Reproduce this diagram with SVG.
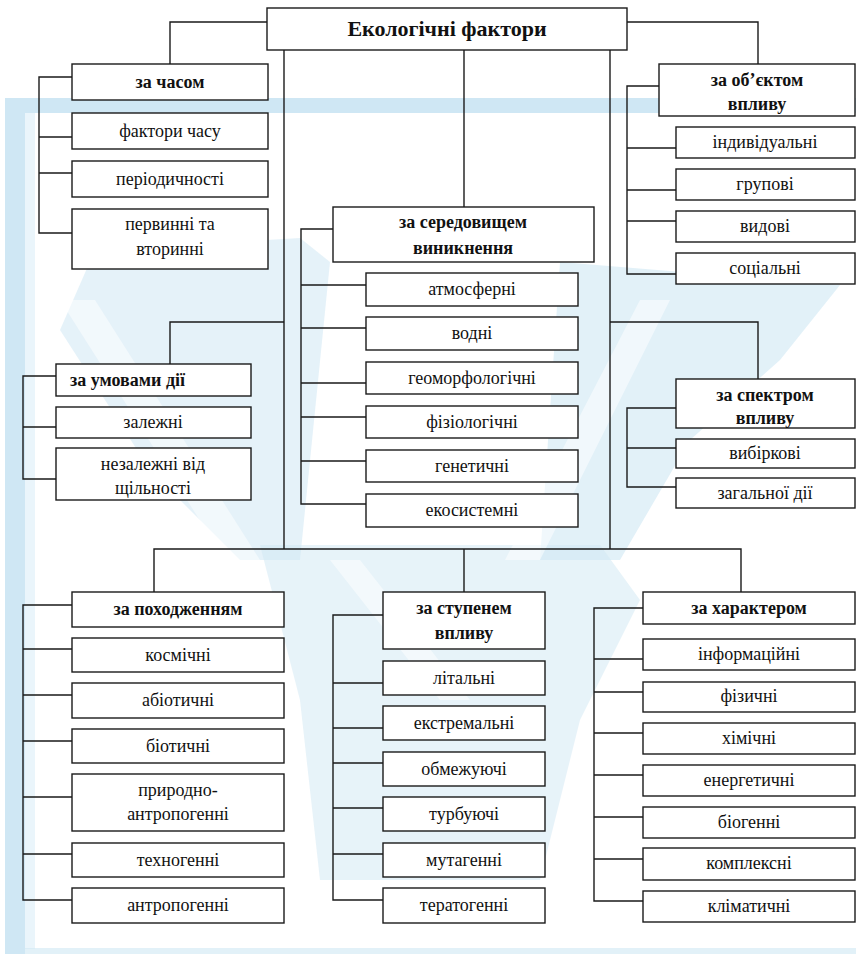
<svg xmlns="http://www.w3.org/2000/svg" width="856" height="954" viewBox="0 0 856 954">
<style>
.b{fill:#fff;stroke:#1a1a1a;stroke-width:1.4}
.c{fill:none;stroke:#1a1a1a;stroke-width:1.4}
text{font-family:"Liberation Serif","Times New Roman",serif;font-size:18px;fill:#111;text-anchor:middle}
.h{font-weight:bold}
.t{font-weight:bold;font-size:22px}
.wm{fill:#cfe7f4}
</style>
<rect width="856" height="954" fill="#fff"/>
<g id="watermark">
<rect class="wm" x="5" y="98" width="851" height="15"/>
<rect class="wm" x="5" y="98" width="20" height="856"/>
<rect x="25" y="113" width="10" height="836" fill="#eaf5fb"/>
<rect class="wm" x="5" y="948" width="851" height="6" opacity="0.6"/>
<path class="wm" opacity="0.55" d="M95,250 L300,238 L330,262 L300,560 L240,560 L150,470 L60,330 Z"/>
<path class="wm" opacity="0.6" d="M560,262 L840,285 L780,360 L690,440 L620,560 L540,560 Z"/>
<path class="wm" opacity="0.5" d="M260,545 L600,545 L640,600 L580,720 L540,880 L320,880 L300,700 Z"/>
<path fill="#fff" opacity="0.5" d="M60,300 L95,300 L260,560 L225,560 Z"/>
<path fill="#fff" opacity="0.5" d="M640,300 L670,300 L540,560 L505,560 Z"/>
<path fill="#fff" opacity="0.5" d="M330,560 L360,560 L470,700 L440,700 Z"/>
</g>
<g id="connectors">
<path class="c" d="M267,22 H170 V64"/>
<path class="c" d="M627,22 H758 V64"/>
<path class="c" d="M464,50 V207"/>
<path class="c" d="M284,50 V549"/>
<path class="c" d="M610,50 V549"/>
<path class="c" d="M154,592 V549 H741 V592 M464,549 V592"/>
<path class="c" d="M72,77 H39 V233 H72 M39,137 H72 M39,173 H72"/>
<path class="c" d="M659,86 H627 V274 H676 M627,148 H676 M627,190 H676 M627,221 H676"/>
<path class="c" d="M333,229 H301 V504 H366 M301,285 H366 M301,328 H366 M301,383 H366 M301,417 H366 M301,461 H366"/>
<path class="c" d="M284,322 H170 V364"/>
<path class="c" d="M56,376 H23 V479 H56 M23,427 H56"/>
<path class="c" d="M610,322 H758 V379"/>
<path class="c" d="M676,408 H627 V487 H676 M627,448 H676"/>
<path class="c" d="M72,605 H23 V900 H72 M23,649 H72 M23,695 H72 M23,741 H72 M23,797 H72 M23,854 H72"/>
<path class="c" d="M383,615 H333 V900 H383 M333,683 H383 M333,728 H383 M333,763 H383 M333,808 H383 M333,854 H383"/>
<path class="c" d="M643,608 H594 V901 H643 M594,659 H643 M594,692 H643 M594,733 H643 M594,775 H643 M594,817 H643 M594,859 H643"/>
</g>
<g id="root"><rect class="b" x="267" y="8" width="360" height="42"/><text class="t" x="447" y="36">Екологічні фактори</text></g>
<g id="chas"><rect class="b" x="72" y="64" width="196" height="36"/><text class="h" x="170" y="88">за часом</text></g>
<g id="chas1"><rect class="b" x="72" y="113" width="196" height="36"/><text x="170" y="137">фактори часу</text></g>
<g id="chas2"><rect class="b" x="72" y="161" width="196" height="36"/><text x="170" y="185">періодичності</text></g>
<g id="chas3"><rect class="b" x="72" y="209" width="196" height="60"/><text x="170" y="230">первинні та</text><text x="170" y="255">вторинні</text></g>
<g id="obj"><rect class="b" x="659" y="64" width="196" height="52"/><text class="h" x="757" y="86">за об’єктом</text><text class="h" x="757" y="110">впливу</text></g>
<g id="obj1"><rect class="b" x="676" y="127" width="179" height="31"/><text x="765" y="148">індивідуальні</text></g>
<g id="obj2"><rect class="b" x="676" y="169" width="179" height="31"/><text x="765" y="190">групові</text></g>
<g id="obj3"><rect class="b" x="676" y="211" width="179" height="31"/><text x="765" y="232">видові</text></g>
<g id="obj4"><rect class="b" x="676" y="253" width="179" height="31"/><text x="765" y="274">соціальні</text></g>
<g id="ser"><rect class="b" x="333" y="207" width="261" height="55"/><text class="h" x="463" y="228">за середовищем</text><text class="h" x="463" y="254">виникнення</text></g>
<g id="ser1"><rect class="b" x="366" y="273" width="212" height="33"/><text x="472" y="295">атмосферні</text></g>
<g id="ser2"><rect class="b" x="366" y="317" width="212" height="33"/><text x="472" y="339">водні</text></g>
<g id="ser3"><rect class="b" x="366" y="362" width="212" height="32"/><text x="472" y="384">геоморфологічні</text></g>
<g id="ser4"><rect class="b" x="366" y="406" width="212" height="32"/><text x="472" y="428">фізіологічні</text></g>
<g id="ser5"><rect class="b" x="366" y="450" width="212" height="32"/><text x="472" y="472">генетичні</text></g>
<g id="ser6"><rect class="b" x="366" y="494" width="212" height="33"/><text x="472" y="516">екосистемні</text></g>
<g id="umov"><rect class="b" x="56" y="364" width="195" height="32"/><text class="h" x="70" y="386" style="text-anchor:start">за умовами дії</text></g>
<g id="umov1"><rect class="b" x="56" y="407" width="195" height="31"/><text x="153" y="428">залежні</text></g>
<g id="umov2"><rect class="b" x="56" y="448" width="195" height="52"/><text x="153" y="470">незалежні від</text><text x="153" y="494">щільності</text></g>
<g id="spek"><rect class="b" x="676" y="379" width="179" height="49"/><text class="h" x="765" y="401">за спектром</text><text class="h" x="765" y="424">впливу</text></g>
<g id="spek1"><rect class="b" x="676" y="439" width="179" height="29"/><text x="765" y="459">вибіркові</text></g>
<g id="spek2"><rect class="b" x="676" y="478" width="179" height="30"/><text x="765" y="499">загальної дії</text></g>
<g id="poh"><rect class="b" x="72" y="592" width="212" height="35"/><text class="h" x="178" y="615">за походженням</text></g>
<g id="poh1"><rect class="b" x="72" y="638" width="212" height="34"/><text x="178" y="661">космічні</text></g>
<g id="poh2"><rect class="b" x="72" y="683" width="212" height="35"/><text x="178" y="706">абіотичні</text></g>
<g id="poh3"><rect class="b" x="72" y="729" width="212" height="34"/><text x="178" y="752">біотичні</text></g>
<g id="poh4"><rect class="b" x="72" y="774" width="212" height="57"/><text x="178" y="796">природно-</text><text x="178" y="820">антропогенні</text></g>
<g id="poh5"><rect class="b" x="72" y="843" width="212" height="34"/><text x="178" y="866">техногенні</text></g>
<g id="poh6"><rect class="b" x="72" y="888" width="212" height="35"/><text x="178" y="911">антропогенні</text></g>
<g id="stup"><rect class="b" x="383" y="592" width="162" height="57"/><text class="h" x="464" y="614">за ступенем</text><text class="h" x="464" y="639">впливу</text></g>
<g id="stup1"><rect class="b" x="383" y="661" width="162" height="34"/><text x="464" y="684">літальні</text></g>
<g id="stup2"><rect class="b" x="383" y="706" width="162" height="34"/><text x="464" y="729">екстремальні</text></g>
<g id="stup3"><rect class="b" x="383" y="752" width="162" height="34"/><text x="464" y="775">обмежуючі</text></g>
<g id="stup4"><rect class="b" x="383" y="797" width="162" height="34"/><text x="464" y="820">турбуючі</text></g>
<g id="stup5"><rect class="b" x="383" y="843" width="162" height="34"/><text x="464" y="866">мутагенні</text></g>
<g id="stup6"><rect class="b" x="383" y="888" width="162" height="35"/><text x="464" y="911">тератогенні</text></g>
<g id="har"><rect class="b" x="643" y="592" width="212" height="32"/><text class="h" x="749" y="614">за характером</text></g>
<g id="har1"><rect class="b" x="643" y="639" width="212" height="31"/><text x="749" y="660">інформаційні</text></g>
<g id="har2"><rect class="b" x="643" y="682" width="212" height="30"/><text x="749" y="702">фізичні</text></g>
<g id="har3"><rect class="b" x="643" y="723" width="212" height="31"/><text x="749" y="744">хімічні</text></g>
<g id="har4"><rect class="b" x="643" y="765" width="212" height="31"/><text x="749" y="786">енергетичні</text></g>
<g id="har5"><rect class="b" x="643" y="807" width="212" height="31"/><text x="749" y="828">біогенні</text></g>
<g id="har6"><rect class="b" x="643" y="848" width="212" height="32"/><text x="749" y="869">комплексні</text></g>
<g id="har7"><rect class="b" x="643" y="891" width="212" height="31"/><text x="749" y="912">кліматичні</text></g>
</svg>
